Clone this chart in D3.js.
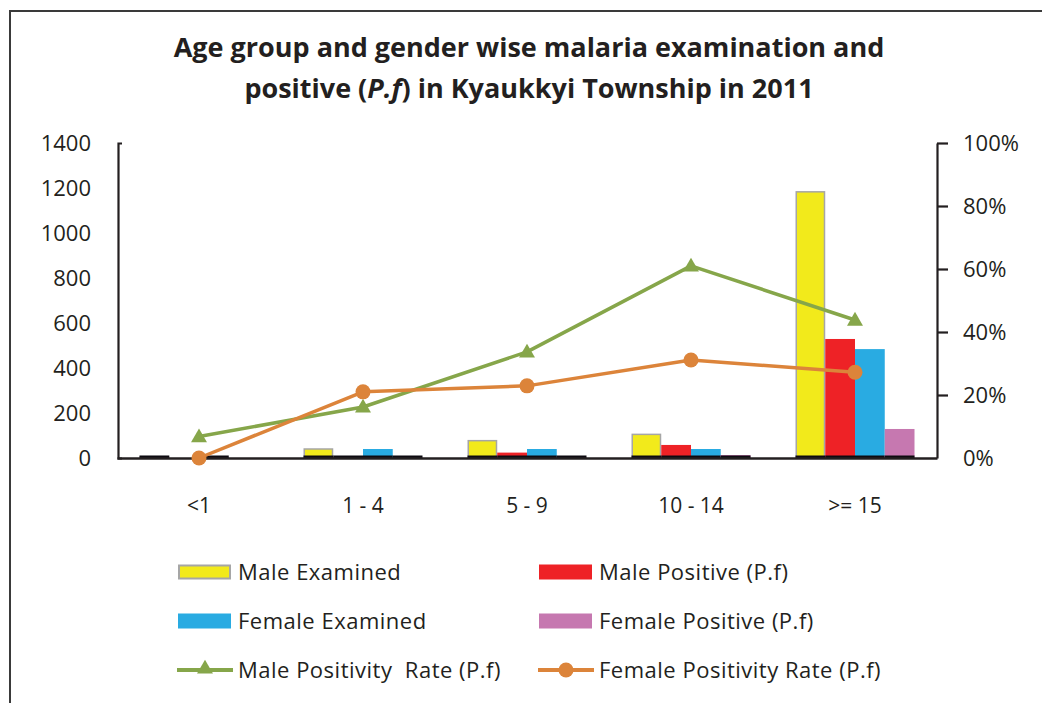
<!DOCTYPE html>
<html>
<head>
<meta charset="utf-8">
<script src="https://cdn.jsdelivr.net/npm/d3@7"></script>
<style>
  body { margin: 0; background: #fff; }
  svg { display: block; }
  text { fill: #231f20; }
</style>
</head>
<body>
<svg id="chart" width="1042" height="703"></svg>
<script>
// Age groups along the x axis
const ageGroups = ["<1", "1 - 4", "5 - 9", "10 - 14", ">= 15"];

// Counts (left axis)
const maleExamined   = [6, 40, 77, 105, 1183];
const malePositive   = [0, 2, 24, 58, 529];
const femaleExamined = [4, 40, 40, 40, 484];
const femalePositive = [0, 1, 2, 13, 129];

// Positivity rates (right axis)
const maleRate   = [0.068, 0.162, 0.337, 0.61, 0.438];
const femaleRate = [0.0, 0.21, 0.229, 0.311, 0.272];

// Tick values
const countTicks = [0, 200, 400, 600, 800, 1000, 1200, 1400];
const rateTicks  = [0, 0.2, 0.4, 0.6, 0.8, 1.0];

const barSeries = [
  { key: "Male Examined",         values: maleExamined,   fill: "#f2ea1b", stroke: "#a6a6a6" },
  { key: "Male Positive (P.f)",   values: malePositive,   fill: "#ee2226", stroke: null },
  { key: "Female Examined",       values: femaleExamined, fill: "#29abe2", stroke: null },
  { key: "Female Positive (P.f)", values: femalePositive, fill: "#c678b0", stroke: null }
];
const lineSeries = [
  { key: "Male Positivity  Rate (P.f)",  values: maleRate,   color: "#86a64a", marker: "triangle" },
  { key: "Female Positivity Rate (P.f)", values: femaleRate, color: "#dc843a", marker: "circle" }
];

const svg = d3.select("#chart");
const font = "'Open Sans', sans-serif";

// Outer frame
svg.append("rect")
  .attr("x", 10).attr("y", 11).attr("width", 1200).attr("height", 900)
  .attr("fill", "none").attr("stroke", "#3a3a3a").attr("stroke-width", 2);

// Title
const title = svg.append("text")
  .attr("text-anchor", "middle")
  .attr("font-family", "'Open Sans', sans-serif")
  .attr("font-weight", 700)
  .attr("font-size", 27);
title.append("tspan").attr("x", 529).attr("y", 57)
  .text("Age group and gender wise malaria examination and");
const t2 = title.append("tspan").attr("x", 529).attr("y", 98);
t2.append("tspan").text("positive (");
t2.append("tspan").attr("font-style", "italic").text("P.f");
t2.append("tspan").text(") in Kyaukkyi Township in 2011");

// Scales
const plotLeft = 117, plotRight = 937, plotTop = 143, plotBottom = 458;
const x = d3.scaleBand().domain(ageGroups).range([plotLeft, plotRight]);
const groupWidth = 119;
const xSub = d3.scaleBand().domain(barSeries.map(s => s.key)).range([-groupWidth / 2, groupWidth / 2]);
const yCount = d3.scaleLinear().domain([0, 1400]).range([plotBottom, plotTop]);
const yRate = d3.scaleLinear().domain([0, 1]).range([plotBottom, plotTop]);
const cx = d => x(d) + x.bandwidth() / 2;

// Bars
barSeries.forEach(s => {
  const g = svg.append("g");
  ageGroups.forEach((grp, i) => {
    const v = s.values[i];
    if (v <= 0) return;
    const bx = cx(grp) + xSub(s.key);
    const bw = xSub.bandwidth();
    const top = yCount(v);
    if (s.stroke) {
      g.append("rect")
        .attr("x", bx + 0.75).attr("y", top)
        .attr("width", bw - 1.5).attr("height", Math.max(0, plotBottom - top))
        .attr("fill", s.fill).attr("stroke", s.stroke).attr("stroke-width", 1.5);
    } else {
      g.append("rect")
        .attr("x", bx).attr("y", top)
        .attr("width", bw).attr("height", Math.max(0, plotBottom - top))
        .attr("fill", s.fill);
    }
    // dark base edge under each bar
    g.append("rect")
      .attr("x", bx).attr("y", plotBottom - 2.5)
      .attr("width", bw).attr("height", 2.5)
      .attr("fill", "#0d0a10");
  });
});

// Left axis
const axisL = svg.append("g")
  .attr("transform", `translate(${plotLeft + 1},0)`)
  .call(d3.axisLeft(yCount).tickValues(countTicks).tickSize(0).tickSizeOuter(-4).tickPadding(27)
    .tickFormat(d3.format("d")));
axisL.select(".domain").attr("stroke", "#231f20").attr("stroke-width", 2.2);
axisL.selectAll("text").attr("font-family", font).attr("font-size", 22).style("fill", "#231f20");

// Right axis
const axisR = svg.append("g")
  .attr("transform", `translate(${plotRight},0)`)
  .call(d3.axisRight(yRate).tickValues(rateTicks).tickSize(11).tickSizeOuter(0).tickPadding(15)
    .tickFormat(d3.format(".0%")));
axisR.select(".domain").attr("stroke", "#231f20").attr("stroke-width", 2.2);
axisR.selectAll(".tick line").attr("stroke", "#231f20").attr("stroke-width", 2.2)
  .filter(d => d === 0).remove();
axisR.selectAll("text").attr("font-family", font).attr("font-size", 22).style("fill", "#231f20");

// Bottom axis
const axisB = svg.append("g")
  .attr("transform", `translate(0,${plotBottom})`)
  .call(d3.axisBottom(x).tickSize(0).tickSizeOuter(0).tickPadding(40));
axisB.select(".domain").attr("stroke", "#231f20").attr("stroke-width", 2.5);
axisB.selectAll("text").attr("font-family", font).attr("font-size", 21).style("fill", "#231f20");

// Lines with markers
const triangle = d3.symbol().type(d3.symbolTriangle).size(110);
lineSeries.forEach(s => {
  const pts = ageGroups.map((g, i) => [cx(g), yRate(s.values[i])]);
  svg.append("path")
    .attr("d", d3.line()(pts))
    .attr("fill", "none").attr("stroke", s.color).attr("stroke-width", 3.5)
    .attr("stroke-linejoin", "round");
  pts.forEach(p => {
    if (s.marker === "triangle") {
      svg.append("path").attr("d", triangle())
        .attr("transform", `translate(${p[0]},${p[1] + 1})`)
        .attr("fill", s.color);
    } else {
      svg.append("circle").attr("cx", p[0]).attr("cy", p[1]).attr("r", 7.5)
        .attr("fill", s.color);
    }
  });
});

// Legend
const legendItems = [
  { s: barSeries[0], col: 0, row: 0, kind: "bar" },
  { s: barSeries[1], col: 1, row: 0, kind: "bar" },
  { s: barSeries[2], col: 0, row: 1, kind: "bar" },
  { s: barSeries[3], col: 1, row: 1, kind: "bar" },
  { s: lineSeries[0], col: 0, row: 2, kind: "line" },
  { s: lineSeries[1], col: 1, row: 2, kind: "line" }
];
const colX = [178, 539];
const rowY = [572, 621, 670];
legendItems.forEach(it => {
  const lx = colX[it.col], ly = rowY[it.row];
  const g = svg.append("g");
  if (it.kind === "bar") {
    if (it.s.stroke) {
      g.append("rect").attr("x", lx + 1).attr("y", ly - 6.5).attr("width", 51).attr("height", 13)
        .attr("fill", it.s.fill).attr("stroke", it.s.stroke).attr("stroke-width", 2);
    } else {
      g.append("rect").attr("x", lx).attr("y", ly - 7.5).attr("width", 53).attr("height", 15)
        .attr("fill", it.s.fill);
    }
  } else {
    g.append("line").attr("x1", lx - 1).attr("x2", lx + 55).attr("y1", ly).attr("y2", ly)
      .attr("stroke", it.s.color).attr("stroke-width", 4);
    if (it.s.marker === "triangle") {
      g.append("path").attr("d", triangle()).attr("transform", `translate(${lx + 27},${ly - 1})`)
        .attr("fill", it.s.color);
    } else {
      g.append("circle").attr("cx", lx + 27).attr("cy", ly).attr("r", 7.5).attr("fill", it.s.color);
    }
  }
  g.append("text").attr("x", lx + 60).attr("y", ly + 8)
    .attr("font-family", font).attr("font-size", 22)
    .attr("letter-spacing", 0.5)
    .style("white-space", "pre")
    .text(it.s.key);
});
</script>
</body>
</html>
